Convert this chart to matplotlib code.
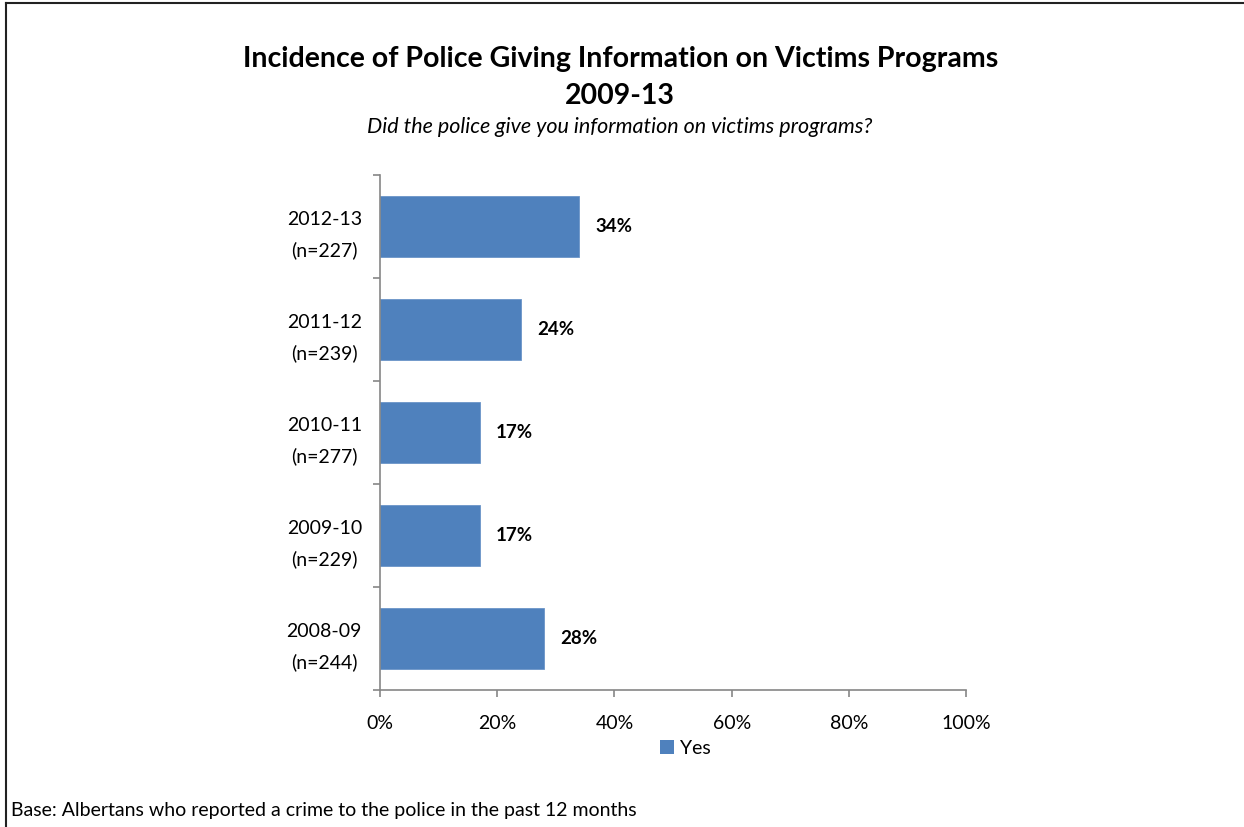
import matplotlib
matplotlib.use('Agg')
import matplotlib.pyplot as plt
from matplotlib.lines import Line2D
from matplotlib.patches import Patch

plt.rcParams['font.family'] = ['Lato', 'DejaVu Sans']

years = ['2012-13', '2011-12', '2010-11', '2009-10', '2008-09']
sizes = [227, 239, 277, 229, 244]
yes_pct = [34, 24, 17, 17, 28]
xticks = [0, 20, 40, 60, 80, 100]

BLUE = '#4F81BD'
GRAY = '#868686'

fig = plt.figure(figsize=(12.44, 8.27), dpi=100)
ax = fig.add_axes([0.3055, 0.1657, 0.4711, 0.6227])

pos = list(range(len(years)))[::-1]
ax.barh(pos, yes_pct, height=0.59, color=BLUE, edgecolor='#6b95c8', linewidth=0.6)
for p, v in zip(pos, yes_pct):
    ax.text(v + 2.8, p, f'{v}%', va='center', ha='left', fontsize=13.5, fontweight='bold')

ax.set_xlim(0, 100)
ax.set_ylim(-0.5, len(years) - 0.5)
ax.set_xticks(xticks)
ax.set_xticklabels([f'{t}%' for t in xticks], fontsize=14)
ax.set_yticks(pos)
ax.set_yticklabels([f'{y}\n(n={n})' for y, n in zip(years, sizes)], fontsize=14,
                   linespacing=1.9)
for lbl in ax.get_yticklabels():
    lbl.set_multialignment('center')
ax.tick_params(axis='y', which='major', length=0, pad=13)
ax.set_yticks([i - 0.5 for i in range(len(years) + 1)], minor=True)
ax.tick_params(axis='y', which='minor', length=5, color=GRAY, width=1.2)
ax.tick_params(axis='x', length=5, color=GRAY, width=1.2, pad=13)
for s in ['top', 'right']:
    ax.spines[s].set_visible(False)
for s in ['left', 'bottom']:
    ax.spines[s].set_color(GRAY)
    ax.spines[s].set_linewidth(1.2)

fig.legend(handles=[Patch(facecolor=BLUE, label='Yes')], loc='center',
           bbox_to_anchor=(0.551, 0.095), frameon=False, fontsize=14,
           handlelength=0.75, handleheight=0.75, handletextpad=0.3)

fig.text(0.4985, 0.929, 'Incidence of Police Giving Information on Victims Programs',
         ha='center', va='center', fontsize=20.5, fontweight='bold')
fig.text(0.4985, 0.884, '2009-13', ha='center', va='center', fontsize=20.5, fontweight='bold')
fig.text(0.4985, 0.846, 'Did the police give you information on victims programs?',
         ha='center', va='center', fontsize=15.5, style='italic')
fig.text(0.009, 0.02, 'Base: Albertans who reported a crime to the police in the past 12 months',
         ha='left', va='center', fontsize=14)

# frame lines along the top and left edges
fig.add_artist(Line2D([0.005, 0.005], [0.0, 0.996], transform=fig.transFigure,
                      color='#222222', linewidth=1.5))
fig.add_artist(Line2D([0.005, 1.0], [0.996, 0.996], transform=fig.transFigure,
                      color='#222222', linewidth=1.5))

fig.savefig('out.png', dpi=100)
